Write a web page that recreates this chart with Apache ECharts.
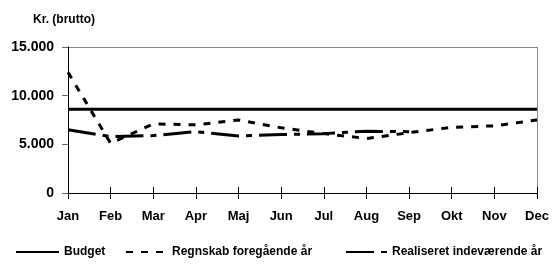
<!DOCTYPE html>
<html><head><meta charset="utf-8">
<script src="https://cdn.jsdelivr.net/npm/echarts@6/dist/echarts.min.js"></script>
<style>html,body{margin:0;padding:0;background:#fff}#c{width:555px;height:265px}</style>
</head><body><div id="c"></div>
<script>
var months = ['Jan','Feb','Mar','Apr','Maj','Jun','Jul','Aug','Sep','Okt','Nov','Dec'];
var budget = [8600,8600,8600,8600,8600,8600,8600,8600,8600,8600,8600,8600];
var regnskab = [12400,5100,7100,7000,7500,6700,6100,5600,6200,6750,6900,7500];
var realiseret = [6500,5800,5900,6300,5850,6000,6100,6350,6300,null,null,null];
var seriesNames = ['Budget','Regnskab foregående år','Realiseret indeværende år'];
var yTicks = [0,5000,10000,15000];

var chart = echarts.init(document.getElementById('c'), null, {renderer:'canvas'});
var font = 'Liberation Sans, Arial, sans-serif';
function fmt(v){ return v===0?'0':String(v).replace(/(\d)(?=(\d{3})+$)/g,'$1.'); }
var legText = {fontFamily:font, fontSize:12, fontWeight:'bold', color:'#000'};
var legItem = {opacity:0, borderWidth:0};
chart.setOption({
  animation:false,
  backgroundColor:'#fff',
  title:{text:'Kr. (brutto)', left:33, top:14, padding:0, textStyle:{fontFamily:font, fontSize:12, fontWeight:'bold', color:'#000'}},
  grid:{left:68, right:18, top:47, bottom:72, show:false},
  legend:[
    {data:[seriesNames[0]], left:15, top:246, padding:0, itemWidth:43, itemHeight:12, itemStyle:legItem, textStyle:legText},
    {data:[seriesNames[1]], left:125, top:246, padding:0, itemWidth:41, itemHeight:12, itemStyle:legItem, textStyle:legText},
    {data:[seriesNames[2]], left:345, top:246, padding:0, itemWidth:41, itemHeight:12, itemStyle:legItem, textStyle:legText}
  ],
  xAxis:[{
    type:'category', data:months, boundaryGap:false,
    axisLine:{lineStyle:{color:'#000', width:1}},
    axisTick:{alignWithLabel:true, length:6, lineStyle:{color:'#000'}},
    axisLabel:{margin:17, fontFamily:font, fontSize:13, fontWeight:'bold', color:'#000', interval:0},
    splitLine:{show:false}
  },{
    type:'category', data:months, boundaryGap:false, position:'bottom',
    axisLine:{show:false},
    axisTick:{inside:true, length:6, lineStyle:{color:'#000'}},
    axisLabel:{show:false}, splitLine:{show:false}
  }],
  yAxis:[{
    type:'value', min:0, max:15000, interval:5000,
    axisLine:{show:true, lineStyle:{color:'#000'}},
    axisTick:{show:true, length:6, lineStyle:{color:'#666'}},
    axisLabel:{margin:14, fontFamily:font, fontSize:14, fontWeight:'bold', color:'#000', formatter:function(v){return fmt(v);}},
    splitLine:{show:false}
  },{
    type:'value', min:0, max:15000, interval:15000, position:'right',
    axisLine:{show:true, lineStyle:{color:'#888'}},
    axisTick:{show:false}, axisLabel:{show:false},
    splitLine:{show:true, lineStyle:{color:'#888'}}
  }],
  series:[
    {name:seriesNames[0], type:'line', data:budget, symbol:'none', color:'#000', lineStyle:{color:'#000', width:3, type:'solid'}, z:3},
    {name:seriesNames[1], type:'line', data:regnskab, symbol:'none', color:'#000', lineStyle:{color:'#000', width:3, type:[7,8]}, z:4},
    {name:seriesNames[2], type:'line', data:realiseret, symbol:'none', color:'#000', lineStyle:{color:'#000', width:3, type:[28,7,6,7]}, z:5}
  ]
});
</script></body></html>
